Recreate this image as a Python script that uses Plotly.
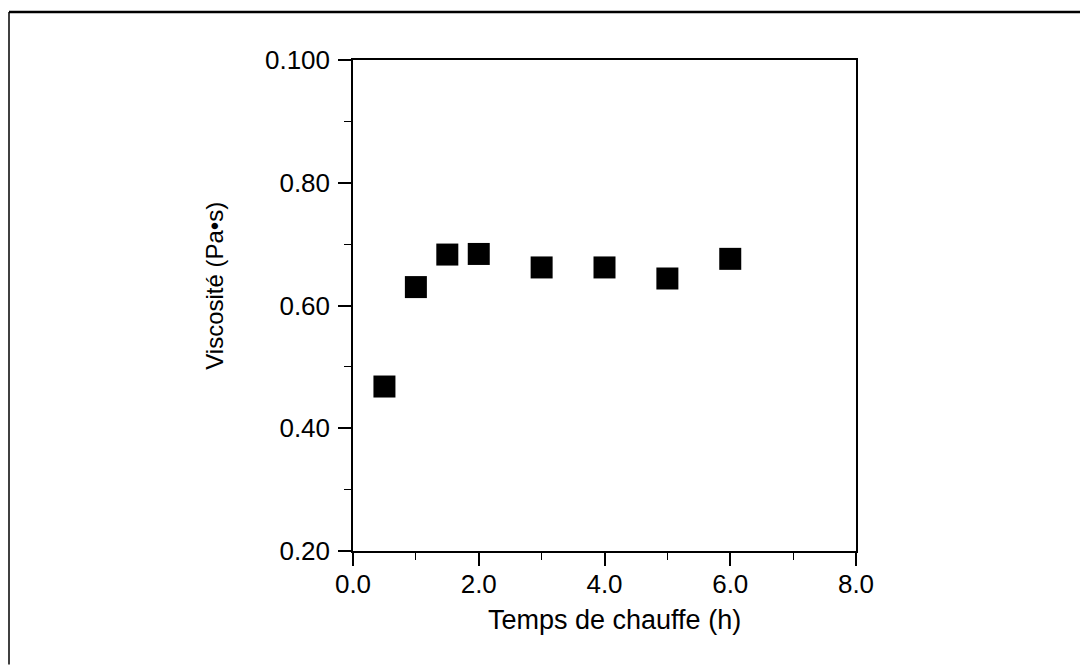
import plotly.graph_objects as go

# Data
temps_h = [0.5, 1.0, 1.5, 2.0, 3.0, 4.0, 5.0, 6.0]
viscosite = [0.468, 0.630, 0.683, 0.684, 0.662, 0.662, 0.644, 0.676]

x_tick_vals = [0, 2, 4, 6, 8]
x_tick_text = ["0.0", "2.0", "4.0", "6.0", "8.0"]
y_tick_vals = [0.2, 0.4, 0.6, 0.8, 1.0]
y_tick_text = ["0.20", "0.40", "0.60", "0.80", "0.100"]
x_title = "Temps de chauffe (h)"
y_title = "Viscosité (Pa•s)"

# page is drawn with an 8px body margin, so figure coords = page coords - 8
OFF = 8
W, H = 1080, 657
L, R, T, B = 353 - OFF, 856 - OFF, 60 - OFF, 551.5 - OFF

fig = go.Figure()
fig.add_trace(go.Scatter(
    x=temps_h, y=viscosite, mode="markers",
    marker=dict(symbol="square", size=22, color="black",
                line=dict(color="black", width=0)),
    showlegend=False, cliponaxis=False,
))

fam = "Liberation Sans, Arial, sans-serif"
tickfont = dict(family=fam, size=26, color="black")

fig.update_layout(
    width=W, height=H,
    margin=dict(l=L, r=W - R, t=T, b=H - B, pad=0),
    paper_bgcolor="white", plot_bgcolor="white",
    font=tickfont,
    xaxis=dict(
        range=[0, 8], tickmode="array", tickvals=x_tick_vals, ticktext=x_tick_text,
        ticks="outside", ticklen=13, tickwidth=1.5, tickcolor="black",
        minor=dict(dtick=1, ticks="outside", ticklen=7, tickwidth=1.2, tickcolor="black"),
        showgrid=False, zeroline=False, showline=True, linecolor="black", linewidth=1.5,
        mirror=True, tickfont=tickfont, ticklabelstandoff=-4,
    ),
    yaxis=dict(
        range=[0.2, 1.0], tickmode="array", tickvals=y_tick_vals, ticktext=y_tick_text,
        ticks="outside", ticklen=13, tickwidth=1.5, tickcolor="black",
        minor=dict(dtick=0.1, ticks="outside", ticklen=7, tickwidth=1.2, tickcolor="black"),
        showgrid=False, zeroline=False, showline=True, linecolor="black", linewidth=1.5,
        mirror=True, tickfont=tickfont, ticklabelstandoff=3,
    ),
)

def px_to_paper_x(px):
    return (px - OFF - L) / (R - L)

def px_to_paper_y(py):
    return (B - (py - OFF)) / (B - T)

# Axis titles placed as annotations where the original has them
fig.add_annotation(
    text=x_title, xref="paper", yref="paper",
    x=px_to_paper_x(614), y=px_to_paper_y(621), xanchor="center", yanchor="middle",
    showarrow=False, font=dict(family=fam, size=27, color="black"),
)
fig.add_annotation(
    text=y_title, xref="paper", yref="paper", textangle=-90,
    x=px_to_paper_x(215), y=px_to_paper_y(286), xanchor="center", yanchor="middle",
    showarrow=False, font=dict(family=fam, size=24, color="black"),
)

# Outer frame of the scanned figure (top and left edges)
fig.add_shape(type="line", xref="paper", yref="paper",
              x0=px_to_paper_x(9), x1=px_to_paper_x(1088), y0=px_to_paper_y(12), y1=px_to_paper_y(12),
              line=dict(color="black", width=2.5))
fig.add_shape(type="line", xref="paper", yref="paper",
              x0=px_to_paper_x(9), x1=px_to_paper_x(9), y0=px_to_paper_y(12), y1=px_to_paper_y(665),
              line=dict(color="black", width=1.5))

fig.write_html("out.html")
